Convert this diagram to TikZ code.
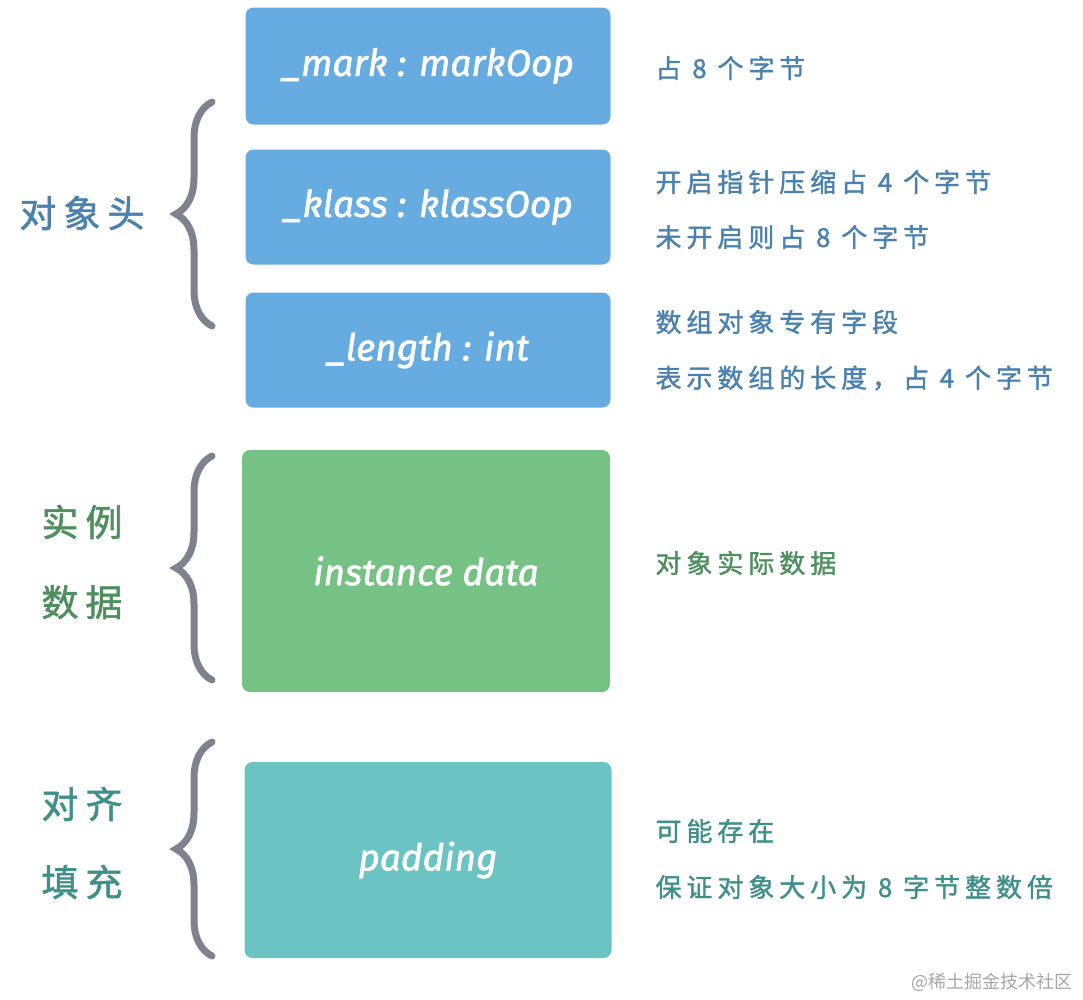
\documentclass[tikz,border=0pt]{standalone}
\usepackage{fontspec}
\usepackage{xcolor}
\usetikzlibrary{decorations.pathreplacing}

\newfontfamily\cjk[LetterSpace=19, FakeBold=1.5]{Noto Sans CJK SC}
\newfontfamily\wmfont{Noto Sans CJK SC}
\newfontfamily\fieldfont[FakeBold=1.5]{Fira Sans}

\definecolor{hdrblue}{HTML}{67ACE1}
\definecolor{datgreen}{HTML}{76C184}
\definecolor{padteal}{HTML}{6CC3C3}
\definecolor{hdrtext}{HTML}{4A81AE}
\definecolor{dattext}{HTML}{4F8E5D}
\definecolor{padtext}{HTML}{3F8F8A}
\definecolor{bracegray}{HTML}{7E818E}

\begin{document}
\begin{tikzpicture}[x=1pt, y=-1pt,
    field/.style={rectangle, rounded corners=8pt, text=white, font=\fieldfont\itshape\fontsize{37}{40}\selectfont},
    note/.style={anchor=west, font=\cjk\fontsize{26}{28}\selectfont},
    part/.style={font=\cjk\fontsize{37}{40}\selectfont, align=center},
    curly/.style={draw=bracegray, line width=7pt, line cap=round, decorate,
        decoration={brace, amplitude=36pt}}]

    \useasboundingbox (0,0) rectangle (1083,999);

    % Object header
    \node[field, fill=hdrblue, minimum width=365, minimum height=117] (mark) at (428,66) {\_mark : markOop};
    \node[field, fill=hdrblue, minimum width=365, minimum height=115] (klass) at (428,207) {\_klass : klassOop};
    \node[field, fill=hdrblue, minimum width=365, minimum height=115] (length) at (428,350) {\_length : int};

    \node[note, text=hdrtext] (n1) at (652,68) {占 8 个字节};
    \node[note, text=hdrtext] (n2) at (652,182) {开启指针压缩占 4 个字节};
    \node[note, text=hdrtext] (n3) at (652,237) {未开启则占 8 个字节};
    \node[note, text=hdrtext] (n4) at (652,322) {数组对象专有字段};
    \node[note, text=hdrtext] (n5) at (652,378) {表示数组的长度，占 4 个字节};

    \node[part, text=hdrtext] (hdr) at (82,213) {对象头};
    \draw[curly] (212,326) -- (212,102);

    % Instance data
    \node[field, fill=datgreen, minimum width=368, minimum height=242] (inst) at (426,571) {instance data};
    \node[note, text=dattext] (n6) at (652,563) {对象实际数据};
    \node[part, text=dattext] (dat) at (82,562) {实例\\[40pt]数据};
    \draw[curly] (212,680) -- (212,456);

    % Padding
    \node[field, fill=padteal, minimum width=367, minimum height=196] (pad) at (428,860) {padding};
    \node[note, text=padtext] (n7) at (652,831) {可能存在};
    \node[note, text=padtext] (n8) at (652,887) {保证对象大小为 8 字节整数倍};
    \node[part, text=padtext] (pdg) at (82,843) {对齐\\[38pt]填充};
    \draw[curly] (212,956) -- (212,742);

    \node[anchor=east, text=black!35, font=\wmfont\fontsize{18}{20}\selectfont] (wm) at (1076,982) {@稀土掘金技术社区};
\end{tikzpicture}
\end{document}
